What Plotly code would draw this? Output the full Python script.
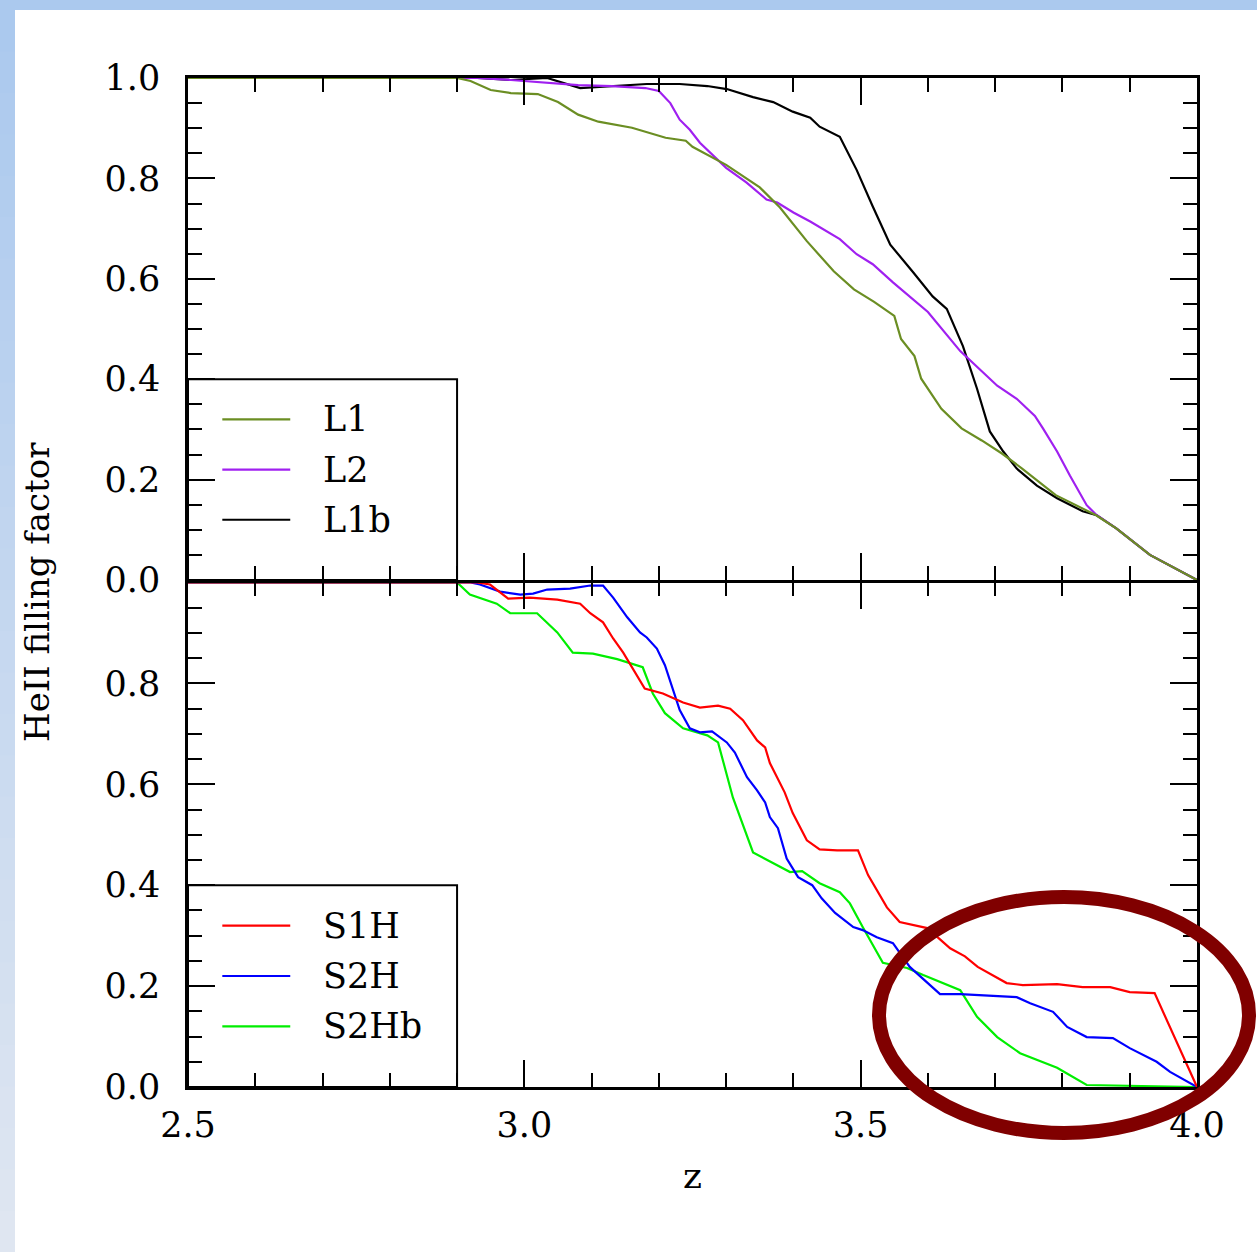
import plotly.graph_objects as go
from plotly.subplots import make_subplots

# ---------------- data ----------------
L1_z = [2.50, 2.90, 2.92, 2.95, 2.98, 3.02, 3.05, 3.08, 3.11, 3.16, 3.21, 3.24, 3.25, 3.30,
        3.35, 3.38, 3.42, 3.46, 3.49, 3.52, 3.55, 3.56, 3.58, 3.59, 3.62, 3.65, 3.68, 3.71,
        3.74, 3.79, 3.85, 3.88, 3.93, 4.00]
L1_f = [1.0, 1.0, 0.994, 0.976, 0.970, 0.968, 0.952, 0.927, 0.913, 0.901, 0.881, 0.875, 0.863, 0.827,
        0.782, 0.742, 0.675, 0.615, 0.579, 0.554, 0.526, 0.480, 0.446, 0.401, 0.341, 0.302, 0.278, 0.252,
        0.222, 0.169, 0.129, 0.103, 0.050, 0.0]

L2_z = [2.50, 2.93, 2.98, 3.08, 3.13, 3.18, 3.20, 3.217, 3.231, 3.246, 3.261, 3.28, 3.30, 3.33,
        3.36, 3.376, 3.40, 3.425, 3.45, 3.469, 3.494, 3.518, 3.548, 3.60, 3.648, 3.703, 3.732,
        3.759, 3.771, 3.792, 3.811, 3.836, 3.851, 3.88, 3.93, 4.00]
L2_f = [1.0, 1.0, 0.996, 0.986, 0.984, 0.980, 0.974, 0.950, 0.917, 0.897, 0.871, 0.847, 0.821, 0.792,
        0.758, 0.752, 0.732, 0.714, 0.694, 0.679, 0.649, 0.629, 0.593, 0.534, 0.456, 0.387, 0.361,
        0.327, 0.302, 0.256, 0.208, 0.149, 0.129, 0.103, 0.050, 0.0]

L1b_z = [2.50, 2.93, 2.98, 3.034, 3.083, 3.132, 3.182, 3.231, 3.272, 3.301, 3.340, 3.370, 3.399,
         3.425, 3.439, 3.469, 3.494, 3.518, 3.544, 3.578, 3.607, 3.628, 3.652, 3.673, 3.692, 3.712,
         3.732, 3.762, 3.792, 3.830, 3.851, 3.88, 3.93, 4.00]
L1b_f = [1.0, 1.0, 0.996, 1.0, 0.980, 0.984, 0.988, 0.988, 0.984, 0.978, 0.962, 0.952, 0.933,
         0.921, 0.903, 0.883, 0.817, 0.744, 0.668, 0.613, 0.565, 0.540, 0.466, 0.381, 0.296, 0.256,
         0.222, 0.188, 0.163, 0.137, 0.129, 0.103, 0.050, 0.0]

S1H_z = [2.50, 2.93, 2.949, 2.976, 3.008, 3.049, 3.083, 3.098, 3.117, 3.132, 3.147, 3.179, 3.206,
         3.236, 3.261, 3.288, 3.306, 3.325, 3.346, 3.358, 3.365, 3.387, 3.399, 3.420, 3.439, 3.465,
         3.496, 3.511, 3.539, 3.558, 3.599, 3.633, 3.655, 3.674, 3.717, 3.741, 3.792, 3.830, 3.871,
         3.900, 3.937, 3.960, 4.00]
S1H_f = [1.0, 1.0, 0.996, 0.968, 0.970, 0.966, 0.958, 0.939, 0.921, 0.889, 0.861, 0.790, 0.780,
         0.762, 0.752, 0.756, 0.750, 0.727, 0.687, 0.673, 0.642, 0.584, 0.543, 0.489, 0.471, 0.469,
         0.469, 0.420, 0.356, 0.327, 0.315, 0.275, 0.259, 0.238, 0.206, 0.202, 0.204, 0.198, 0.198,
         0.188, 0.186, 0.119, 0.0]

S2H_z = [2.50, 2.92, 2.934, 2.964, 2.994, 3.013, 3.034, 3.068, 3.098, 3.117, 3.132, 3.153, 3.172,
         3.182, 3.197, 3.209, 3.231, 3.246, 3.261, 3.279, 3.301, 3.313, 3.331, 3.346, 3.358, 3.365,
         3.377, 3.390, 3.407, 3.428, 3.442, 3.462, 3.489, 3.503, 3.524, 3.548, 3.573, 3.618, 3.648,
         3.732, 3.752, 3.786, 3.807, 3.836, 3.875, 3.900, 3.940, 3.960, 4.00]
S2H_f = [1.0, 1.0, 0.996, 0.982, 0.976, 0.978, 0.986, 0.988, 0.994, 0.994, 0.970, 0.931, 0.901,
         0.891, 0.869, 0.836, 0.747, 0.711, 0.703, 0.705, 0.683, 0.663, 0.614, 0.588, 0.564, 0.535,
         0.513, 0.453, 0.416, 0.400, 0.374, 0.345, 0.317, 0.311, 0.297, 0.285, 0.238, 0.184, 0.184,
         0.178, 0.166, 0.149, 0.119, 0.099, 0.097, 0.077, 0.050, 0.030, 0.0]

S2Hb_z = [2.50, 2.90, 2.919, 2.959, 2.979, 3.019, 3.049, 3.072, 3.102, 3.138, 3.176, 3.191, 3.209,
          3.236, 3.272, 3.288, 3.310, 3.340, 3.395, 3.413, 3.439, 3.469, 3.484, 3.503, 3.533, 3.569,
          3.593, 3.648, 3.673, 3.703, 3.737, 3.792, 3.836, 4.00]
S2Hb_f = [1.0, 1.0, 0.976, 0.958, 0.939, 0.939, 0.901, 0.861, 0.859, 0.848, 0.832, 0.780, 0.741,
          0.711, 0.697, 0.683, 0.574, 0.465, 0.426, 0.428, 0.404, 0.386, 0.364, 0.317, 0.246, 0.236,
          0.222, 0.192, 0.139, 0.099, 0.067, 0.038, 0.004, 0.0]

# legend order (top to bottom) and drawing order (first drawn = bottom-most)
top_series = [("L1", L1_z, L1_f, "#6b8e23"), ("L2", L2_z, L2_f, "#a020f0"), ("L1b", L1b_z, L1b_f, "#000000")]
bot_series = [("S1H", S1H_z, S1H_f, "#ff0000"), ("S2H", S2H_z, S2H_f, "#0000ff"), ("S2Hb", S2Hb_z, S2Hb_f, "#00ee00")]
top_draw_order = [2, 1, 0]
bot_draw_order = [2, 1, 0]

x_range = [2.5, 4.0]
x_ticks = [2.5, 3.0, 3.5, 4.0]
x_ticktext = ["2.5", "3.0", "3.5", "4.0"]
y_top_ticks = [0.0, 0.2, 0.4, 0.6, 0.8, 1.0]
y_bot_ticks = [0.0, 0.2, 0.4, 0.6, 0.8]
legend_rows = [0.32, 0.22, 0.12]

# ---------------- figure ----------------
W, H = 1257, 1252
ML, MR, MT, MB = 188, 60, 78, 165
PW, PH = W - ML - MR, H - MT - MB
AXLW = 2.5

fig = make_subplots(rows=2, cols=1, vertical_spacing=0)

for i in top_draw_order:
    name, z, f, c = top_series[i]
    fig.add_trace(go.Scatter(x=z, y=f, mode="lines", line=dict(color=c, width=2.2), name=name,
                             showlegend=False), row=1, col=1)
for i in bot_draw_order:
    name, z, f, c = bot_series[i]
    fig.add_trace(go.Scatter(x=z, y=f, mode="lines", line=dict(color=c, width=2.2), name=name,
                             showlegend=False), row=2, col=1)

FONT = "DejaVu Serif"
axis_common = dict(showline=True, linecolor="black", linewidth=AXLW, mirror="ticks",
                   ticks="inside", tickcolor="black", tickwidth=2, showgrid=False, zeroline=False,
                   tickfont=dict(family=FONT, size=35, color="black"))

fig.update_xaxes(range=x_range, tickmode="array", tickvals=x_ticks, ticktext=x_ticktext, ticklen=27,
                 minor=dict(dtick=0.1, tick0=2.5, ticklen=14, tickwidth=2, ticks="inside",
                            tickcolor="black", showgrid=False),
                 **axis_common)
fig.update_xaxes(showticklabels=False, row=1, col=1)
fig.update_xaxes(showticklabels=True, ticklabelstandoff=5, row=2, col=1)

fig.update_yaxes(range=[0, 1], ticklen=27, ticklabelstandoff=18,
                 minor=dict(dtick=0.05, tick0=0, ticklen=14, tickwidth=2, ticks="inside",
                            tickcolor="black", showgrid=False),
                 **axis_common)
fig.update_yaxes(tickmode="array", tickvals=y_top_ticks, ticktext=[f"{v:.1f}" for v in y_top_ticks],
                 domain=[0.5 + AXLW / PH, 1.0], row=1, col=1)
fig.update_yaxes(tickmode="array", tickvals=y_bot_ticks, ticktext=[f"{v:.1f}" for v in y_bot_ticks],
                 domain=[0.0, 0.5], row=2, col=1)

shapes = []
annotations = []


def px2paper_x(px):
    return (px - ML) / PW


def px2paper_y(py):
    return (H - MB - py) / PH


# slide background bands
shapes.append(dict(type="rect", xref="paper", yref="paper", x0=px2paper_x(0), x1=px2paper_x(W),
                   y0=px2paper_y(10), y1=px2paper_y(0), fillcolor="#abc9ee", line=dict(width=0),
                   layer="below"))
n_seg = 30
c0 = (0xab, 0xc9, 0xee)
c1 = (0xdf, 0xe6, 0xf1)
for i in range(n_seg):
    t = i / (n_seg - 1)
    col = "rgb(%d,%d,%d)" % tuple(round(a + (b - a) * t) for a, b in zip(c0, c1))
    ya = 10 + (H - 10) * i / n_seg
    yb = 10 + (H - 10) * (i + 1) / n_seg + 1
    shapes.append(dict(type="rect", xref="paper", yref="paper", x0=px2paper_x(0), x1=px2paper_x(15),
                       y0=px2paper_y(yb), y1=px2paper_y(ya), fillcolor=col, line=dict(width=0),
                       layer="below"))

# legend boxes + entries
for (xr, yr), series in [(("x", "y"), top_series), (("x2", "y2"), bot_series)]:
    shapes.append(dict(type="rect", xref=xr, yref=yr, x0=2.5, x1=2.9, y0=0, y1=0.4,
                       line=dict(color="black", width=2)))
    for (name, _, _, c), yv in zip(series, legend_rows):
        shapes.append(dict(type="line", xref=xr, yref=yr, x0=2.551, x1=2.652, y0=yv, y1=yv,
                           line=dict(color=c, width=2.2)))
        annotations.append(dict(xref=xr, yref=yr, x=2.697, y=yv, text=name, showarrow=False,
                                xanchor="left", yanchor="middle",
                                font=dict(family=FONT, size=35, color="black")))

# highlight ellipse
shapes.append(dict(type="circle", xref="paper", yref="paper",
                   x0=px2paper_x(879), x1=px2paper_x(1249), y0=px2paper_y(1133), y1=px2paper_y(897),
                   line=dict(color="#800000", width=14), layer="above"))

# axis titles
annotations.append(dict(xref="paper", yref="paper", x=px2paper_x(37), y=px2paper_y(592),
                        text="HeII filling factor", textangle=-90, showarrow=False,
                        xanchor="center", yanchor="middle",
                        font=dict(family=FONT, size=34, color="black")))
annotations.append(dict(xref="paper", yref="paper", x=px2paper_x(692), y=px2paper_y(1175),
                        text="z", showarrow=False, xanchor="center", yanchor="middle",
                        font=dict(family=FONT, size=36, color="black")))

fig.update_layout(width=W, height=H, margin=dict(l=ML, r=MR, t=MT, b=MB),
                  paper_bgcolor="white", plot_bgcolor="white",
                  shapes=shapes, annotations=annotations, showlegend=False)

fig.write_html("out.html")
